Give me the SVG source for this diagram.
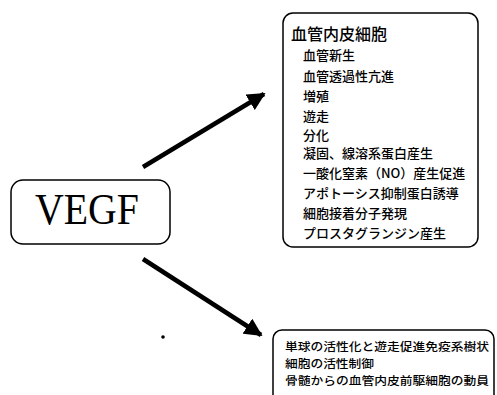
<svg xmlns="http://www.w3.org/2000/svg" width="497" height="395" viewBox="0 0 497 395">
<defs>
<style>
.box{fill:#fff;stroke:#000;stroke-width:1.5}
.jp{font-family:"Noto Sans CJK JP","Noto Sans CJK SC",sans-serif;font-size:13px;font-weight:500;fill:#000}
.title{font-size:16px}
.small{font-size:11.5px}
.big{font-family:"Liberation Serif",serif;font-size:45px;fill:#000}
.arrow{stroke:#000;stroke-width:4.5;fill:none}
</style>
<marker id="ah" viewBox="0 0 10 10" refX="9" refY="5" markerWidth="4" markerHeight="4" orient="auto" markerUnits="strokeWidth">
<path d="M0,0 L10,5 L0,10 z" fill="#000"/>
</marker>
</defs>
<rect width="497" height="395" fill="#fff"/>
<g id="connectors">
<line class="arrow" x1="143" y1="167" x2="264" y2="94" marker-end="url(#ah)"/>
<line class="arrow" x1="143" y1="259" x2="261" y2="335" marker-end="url(#ah)"/>
</g>
<g id="vegf">
<rect class="box" x="11" y="180" width="159" height="64" rx="12"/>
<text class="big" x="35" y="224" textLength="104" lengthAdjust="spacingAndGlyphs">VEGF</text>
</g>
<g id="endothelial">
<rect class="box" x="283" y="13" width="195" height="234" rx="10"/>
<text class="jp title" x="291" y="40">血管内皮細胞</text>
<text class="jp" x="303" y="60">血管新生</text>
<text class="jp" x="303" y="81">血管透過性亢進</text>
<text class="jp" x="303" y="101">増殖</text>
<text class="jp" x="303" y="121">遊走</text>
<text class="jp" x="303" y="140">分化</text>
<text class="jp" x="303" y="158">凝固、線溶系蛋白産生</text>
<text class="jp" x="303" y="178">一酸化窒素（NO）産生促進</text>
<text class="jp" x="303" y="198">アポトーシス抑制蛋白誘導</text>
<text class="jp" x="303" y="218">細胞接着分子発現</text>
<text class="jp" x="303" y="238">プロスタグランジン産生</text>
</g>
<g id="immune">
<rect class="box" x="273" y="330" width="221" height="75" rx="9"/>
<text class="jp small" x="285" y="351" textLength="204" lengthAdjust="spacingAndGlyphs">単球の活性化と遊走促進免疫系樹状</text>
<text class="jp small" x="285" y="368" textLength="89" lengthAdjust="spacingAndGlyphs">細胞の活性制御</text>
<text class="jp small" x="285" y="385" textLength="204" lengthAdjust="spacingAndGlyphs">骨髄からの血管内皮前駆細胞の動員</text>
</g>
<circle cx="163" cy="337" r="1.8" fill="#000"/>
</svg>
